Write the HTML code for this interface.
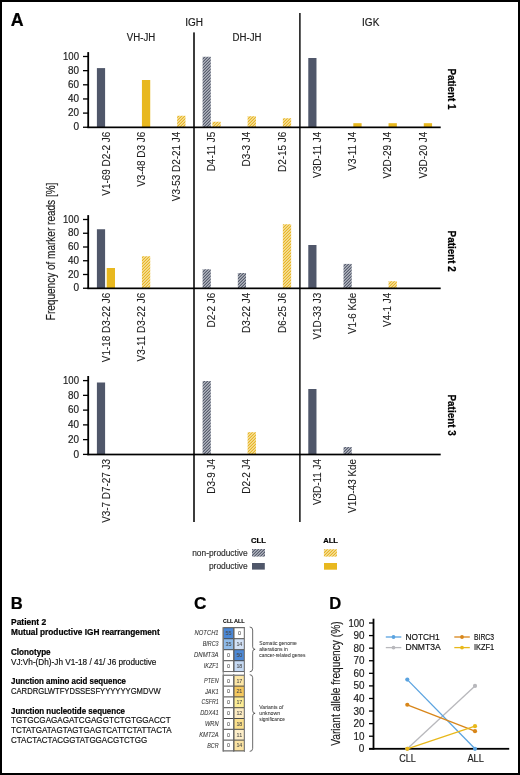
<!DOCTYPE html>
<html><head><meta charset="utf-8"><title>Figure</title>
<style>html,body{margin:0;padding:0;background:#fff;}svg{display:block;will-change:transform;}</style>
</head><body>
<svg width="520" height="775" viewBox="0 0 520 775" font-family='"Liberation Sans", sans-serif' fill="#1c1c1c">
<defs>
<pattern id="hd" patternUnits="userSpaceOnUse" width="2.1213" height="2.1213" patternTransform="rotate(45)">
<rect width="2.1213" height="2.1213" fill="#e4e6ec"/><rect width="1.12" height="2.1213" fill="#343b4e"/></pattern>
<pattern id="hy" patternUnits="userSpaceOnUse" width="2.1213" height="2.1213" patternTransform="rotate(45)">
<rect width="2.1213" height="2.1213" fill="#fffae6"/><rect width="1.2" height="2.1213" fill="#e3aa06"/></pattern>
</defs>
<rect x="0" y="0" width="520" height="775" fill="#fff"/>
<text x="10.7" y="25.5" font-size="17.8" stroke="#000" stroke-width="0.22" font-weight="bold" fill="#000">A</text>
<text x="194.2" y="25.6" font-size="10.0" stroke="#1c1c1c" stroke-width="0.18" text-anchor="middle">IGH</text>
<text x="141.0" y="41.2" font-size="10.0" stroke="#1c1c1c" stroke-width="0.18" text-anchor="middle" textLength="28.4" lengthAdjust="spacingAndGlyphs">VH-JH</text>
<text x="247.0" y="40.9" font-size="10.0" stroke="#1c1c1c" stroke-width="0.18" text-anchor="middle" textLength="28.9" lengthAdjust="spacingAndGlyphs">DH-JH</text>
<text x="370.7" y="25.9" font-size="10.0" stroke="#1c1c1c" stroke-width="0.18" text-anchor="middle">IGK</text>
<rect x="193" y="32.4" width="2" height="489.6" fill="#3c3c3c"/>
<rect x="299" y="13" width="1.75" height="509" fill="#333"/>
<rect x="96.90" y="68.1" width="8.2" height="59.15" fill="#50576a"/>
<rect x="141.93" y="80.0" width="8.3" height="47.25" fill="#e8b81f"/>
<rect x="177.16" y="115.75" width="8.3" height="11.50" fill="url(#hy)"/>
<rect x="202.59" y="56.75" width="8.2" height="70.50" fill="url(#hd)"/>
<rect x="212.39" y="121.75" width="8.3" height="5.50" fill="url(#hy)"/>
<rect x="247.62" y="116.25" width="8.3" height="11.00" fill="url(#hy)"/>
<rect x="282.85" y="118.25" width="8.3" height="9.00" fill="url(#hy)"/>
<rect x="308.28" y="58.0" width="8.2" height="69.25" fill="#50576a"/>
<rect x="353.31" y="123.2" width="8.3" height="4.05" fill="#e8b81f"/>
<rect x="388.54" y="123.2" width="8.3" height="4.05" fill="#e8b81f"/>
<rect x="423.77" y="123.2" width="8.3" height="4.05" fill="#e8b81f"/>
<rect x="87.3" y="52.1" width="1.8" height="75.95" fill="#000"/>
<rect x="87.3" y="126.50" width="353.40" height="1.7" fill="#000"/>
<rect x="83" y="126.60" width="5" height="1.3" fill="#000"/>
<text x="79.0" y="130.45" font-size="10.5" stroke="#1c1c1c" stroke-width="0.18" text-anchor="end" textLength="5.6" lengthAdjust="spacingAndGlyphs">0</text>
<rect x="83" y="112.45" width="5" height="1.3" fill="#000"/>
<text x="79.0" y="116.3" font-size="10.5" stroke="#1c1c1c" stroke-width="0.18" text-anchor="end" textLength="11.0" lengthAdjust="spacingAndGlyphs">20</text>
<rect x="83" y="98.30" width="5" height="1.3" fill="#000"/>
<text x="79.0" y="102.15" font-size="10.5" stroke="#1c1c1c" stroke-width="0.18" text-anchor="end" textLength="11.0" lengthAdjust="spacingAndGlyphs">40</text>
<rect x="83" y="84.15" width="5" height="1.3" fill="#000"/>
<text x="79.0" y="88.0" font-size="10.5" stroke="#1c1c1c" stroke-width="0.18" text-anchor="end" textLength="11.0" lengthAdjust="spacingAndGlyphs">60</text>
<rect x="83" y="70.00" width="5" height="1.3" fill="#000"/>
<text x="79.0" y="73.85" font-size="10.5" stroke="#1c1c1c" stroke-width="0.18" text-anchor="end" textLength="11.0" lengthAdjust="spacingAndGlyphs">80</text>
<rect x="83" y="55.85" width="5" height="1.3" fill="#000"/>
<text x="79.0" y="59.7" font-size="10.5" stroke="#1c1c1c" stroke-width="0.18" text-anchor="end" textLength="16.0" lengthAdjust="spacingAndGlyphs">100</text>
<text transform="translate(109.5,131.85) rotate(-90)" font-size="11.2" stroke="#1c1c1c" stroke-width="0.1" text-anchor="end" textLength="63.83" lengthAdjust="spacingAndGlyphs">V1-69 D2-2 J6</text>
<text transform="translate(144.73,131.85) rotate(-90)" font-size="11.2" stroke="#1c1c1c" stroke-width="0.1" text-anchor="end" textLength="55.03" lengthAdjust="spacingAndGlyphs">V3-48 D3 J6</text>
<text transform="translate(179.96,131.85) rotate(-90)" font-size="11.2" stroke="#1c1c1c" stroke-width="0.1" text-anchor="end" textLength="69.33" lengthAdjust="spacingAndGlyphs">V3-53 D2-21 J4</text>
<text transform="translate(215.19,131.85) rotate(-90)" font-size="11.2" stroke="#1c1c1c" stroke-width="0.1" text-anchor="end" textLength="39.43" lengthAdjust="spacingAndGlyphs">D4-11 J5</text>
<text transform="translate(250.42,131.85) rotate(-90)" font-size="11.2" stroke="#1c1c1c" stroke-width="0.1" text-anchor="end" textLength="34.66" lengthAdjust="spacingAndGlyphs">D3-3 J4</text>
<text transform="translate(285.65,131.85) rotate(-90)" font-size="11.2" stroke="#1c1c1c" stroke-width="0.1" text-anchor="end" textLength="40.17" lengthAdjust="spacingAndGlyphs">D2-15 J6</text>
<text transform="translate(320.88,131.85) rotate(-90)" font-size="11.2" stroke="#1c1c1c" stroke-width="0.1" text-anchor="end" textLength="46.04" lengthAdjust="spacingAndGlyphs">V3D-11 J4</text>
<text transform="translate(356.11,131.85) rotate(-90)" font-size="11.2" stroke="#1c1c1c" stroke-width="0.1" text-anchor="end" textLength="38.89" lengthAdjust="spacingAndGlyphs">V3-11 J4</text>
<text transform="translate(391.34,131.85) rotate(-90)" font-size="11.2" stroke="#1c1c1c" stroke-width="0.1" text-anchor="end" textLength="46.77" lengthAdjust="spacingAndGlyphs">V2D-29 J4</text>
<text transform="translate(426.57,131.85) rotate(-90)" font-size="11.2" stroke="#1c1c1c" stroke-width="0.1" text-anchor="end" textLength="46.77" lengthAdjust="spacingAndGlyphs">V3D-20 J4</text>
<rect x="96.90" y="229.25" width="8.2" height="59.00" fill="#50576a"/>
<rect x="106.70" y="268.0" width="8.3" height="20.25" fill="#e8b81f"/>
<rect x="141.93" y="256.25" width="8.3" height="32.00" fill="url(#hy)"/>
<rect x="202.59" y="269.25" width="8.2" height="19.00" fill="url(#hd)"/>
<rect x="237.82" y="273.0" width="8.2" height="15.25" fill="url(#hd)"/>
<rect x="282.85" y="224.25" width="8.3" height="64.00" fill="url(#hy)"/>
<rect x="308.28" y="245.0" width="8.2" height="43.25" fill="#50576a"/>
<rect x="343.51" y="263.9" width="8.2" height="24.35" fill="url(#hd)"/>
<rect x="388.54" y="281.2" width="8.3" height="7.05" fill="url(#hy)"/>
<rect x="87.3" y="215.1" width="1.8" height="73.95" fill="#000"/>
<rect x="87.3" y="287.50" width="353.40" height="1.7" fill="#000"/>
<rect x="83" y="287.60" width="5" height="1.3" fill="#000"/>
<text x="79.0" y="291.45" font-size="10.5" stroke="#1c1c1c" stroke-width="0.18" text-anchor="end" textLength="5.6" lengthAdjust="spacingAndGlyphs">0</text>
<rect x="83" y="273.85" width="5" height="1.3" fill="#000"/>
<text x="79.0" y="277.7" font-size="10.5" stroke="#1c1c1c" stroke-width="0.18" text-anchor="end" textLength="11.0" lengthAdjust="spacingAndGlyphs">20</text>
<rect x="83" y="260.10" width="5" height="1.3" fill="#000"/>
<text x="79.0" y="263.95" font-size="10.5" stroke="#1c1c1c" stroke-width="0.18" text-anchor="end" textLength="11.0" lengthAdjust="spacingAndGlyphs">40</text>
<rect x="83" y="246.35" width="5" height="1.3" fill="#000"/>
<text x="79.0" y="250.2" font-size="10.5" stroke="#1c1c1c" stroke-width="0.18" text-anchor="end" textLength="11.0" lengthAdjust="spacingAndGlyphs">60</text>
<rect x="83" y="232.60" width="5" height="1.3" fill="#000"/>
<text x="79.0" y="236.45" font-size="10.5" stroke="#1c1c1c" stroke-width="0.18" text-anchor="end" textLength="11.0" lengthAdjust="spacingAndGlyphs">80</text>
<rect x="83" y="218.85" width="5" height="1.3" fill="#000"/>
<text x="79.0" y="222.7" font-size="10.5" stroke="#1c1c1c" stroke-width="0.18" text-anchor="end" textLength="16.0" lengthAdjust="spacingAndGlyphs">100</text>
<text transform="translate(109.5,292.85) rotate(-90)" font-size="11.2" stroke="#1c1c1c" stroke-width="0.1" text-anchor="end" textLength="69.33" lengthAdjust="spacingAndGlyphs">V1-18 D3-22 J6</text>
<text transform="translate(144.73,292.85) rotate(-90)" font-size="11.2" stroke="#1c1c1c" stroke-width="0.1" text-anchor="end" textLength="68.6" lengthAdjust="spacingAndGlyphs">V3-11 D3-22 J6</text>
<text transform="translate(215.19,292.85) rotate(-90)" font-size="11.2" stroke="#1c1c1c" stroke-width="0.1" text-anchor="end" textLength="34.66" lengthAdjust="spacingAndGlyphs">D2-2 J6</text>
<text transform="translate(250.42,292.85) rotate(-90)" font-size="11.2" stroke="#1c1c1c" stroke-width="0.1" text-anchor="end" textLength="40.17" lengthAdjust="spacingAndGlyphs">D3-22 J4</text>
<text transform="translate(285.65,292.85) rotate(-90)" font-size="11.2" stroke="#1c1c1c" stroke-width="0.1" text-anchor="end" textLength="40.17" lengthAdjust="spacingAndGlyphs">D6-25 J6</text>
<text transform="translate(320.88,292.85) rotate(-90)" font-size="11.2" stroke="#1c1c1c" stroke-width="0.1" text-anchor="end" textLength="46.77" lengthAdjust="spacingAndGlyphs">V1D-33 J3</text>
<text transform="translate(356.11,292.85) rotate(-90)" font-size="11.2" stroke="#1c1c1c" stroke-width="0.1" text-anchor="end" textLength="41.28" lengthAdjust="spacingAndGlyphs">V1-6 Kde</text>
<text transform="translate(391.34,292.85) rotate(-90)" font-size="11.2" stroke="#1c1c1c" stroke-width="0.1" text-anchor="end" textLength="34.12" lengthAdjust="spacingAndGlyphs">V4-1 J4</text>
<rect x="96.90" y="382.5" width="8.2" height="71.90" fill="#50576a"/>
<rect x="202.59" y="381.0" width="8.2" height="73.40" fill="url(#hd)"/>
<rect x="247.62" y="432.2" width="8.3" height="22.20" fill="url(#hy)"/>
<rect x="308.28" y="389.0" width="8.2" height="65.40" fill="#50576a"/>
<rect x="343.51" y="447.0" width="8.2" height="7.40" fill="url(#hd)"/>
<rect x="87.3" y="376.0" width="1.8" height="79.20" fill="#000"/>
<rect x="87.3" y="453.65" width="353.40" height="1.7" fill="#000"/>
<rect x="83" y="453.75" width="5" height="1.3" fill="#000"/>
<text x="79.0" y="457.6" font-size="10.5" stroke="#1c1c1c" stroke-width="0.18" text-anchor="end" textLength="5.6" lengthAdjust="spacingAndGlyphs">0</text>
<rect x="83" y="438.99" width="5" height="1.3" fill="#000"/>
<text x="79.0" y="442.84" font-size="10.5" stroke="#1c1c1c" stroke-width="0.18" text-anchor="end" textLength="11.0" lengthAdjust="spacingAndGlyphs">20</text>
<rect x="83" y="424.23" width="5" height="1.3" fill="#000"/>
<text x="79.0" y="428.08" font-size="10.5" stroke="#1c1c1c" stroke-width="0.18" text-anchor="end" textLength="11.0" lengthAdjust="spacingAndGlyphs">40</text>
<rect x="83" y="409.47" width="5" height="1.3" fill="#000"/>
<text x="79.0" y="413.32" font-size="10.5" stroke="#1c1c1c" stroke-width="0.18" text-anchor="end" textLength="11.0" lengthAdjust="spacingAndGlyphs">60</text>
<rect x="83" y="394.71" width="5" height="1.3" fill="#000"/>
<text x="79.0" y="398.56" font-size="10.5" stroke="#1c1c1c" stroke-width="0.18" text-anchor="end" textLength="11.0" lengthAdjust="spacingAndGlyphs">80</text>
<rect x="83" y="379.95" width="5" height="1.3" fill="#000"/>
<text x="79.0" y="383.8" font-size="10.5" stroke="#1c1c1c" stroke-width="0.18" text-anchor="end" textLength="16.0" lengthAdjust="spacingAndGlyphs">100</text>
<text transform="translate(109.5,459.0) rotate(-90)" font-size="11.2" stroke="#1c1c1c" stroke-width="0.1" text-anchor="end" textLength="63.83" lengthAdjust="spacingAndGlyphs">V3-7 D7-27 J3</text>
<text transform="translate(215.19,459.0) rotate(-90)" font-size="11.2" stroke="#1c1c1c" stroke-width="0.1" text-anchor="end" textLength="34.66" lengthAdjust="spacingAndGlyphs">D3-9 J4</text>
<text transform="translate(250.42,459.0) rotate(-90)" font-size="11.2" stroke="#1c1c1c" stroke-width="0.1" text-anchor="end" textLength="34.66" lengthAdjust="spacingAndGlyphs">D2-2 J4</text>
<text transform="translate(320.88,459.0) rotate(-90)" font-size="11.2" stroke="#1c1c1c" stroke-width="0.1" text-anchor="end" textLength="46.04" lengthAdjust="spacingAndGlyphs">V3D-11 J4</text>
<text transform="translate(356.11,459.0) rotate(-90)" font-size="11.2" stroke="#1c1c1c" stroke-width="0.1" text-anchor="end" textLength="53.93" lengthAdjust="spacingAndGlyphs">V1D-43 Kde</text>
<text transform="translate(447.5,89.0) rotate(90)" font-size="10.6" stroke="#000" stroke-width="0.22" font-weight="bold" text-anchor="middle" fill="#000" textLength="41.2" lengthAdjust="spacingAndGlyphs">Patient 1</text>
<text transform="translate(447.5,251.2) rotate(90)" font-size="10.6" stroke="#000" stroke-width="0.22" font-weight="bold" text-anchor="middle" fill="#000" textLength="41.2" lengthAdjust="spacingAndGlyphs">Patient 2</text>
<text transform="translate(447.5,415.1) rotate(90)" font-size="10.6" stroke="#000" stroke-width="0.22" font-weight="bold" text-anchor="middle" fill="#000" textLength="41.2" lengthAdjust="spacingAndGlyphs">Patient 3</text>
<text transform="translate(54.6,251.4) rotate(-90)" font-size="13.2" stroke="#1c1c1c" stroke-width="0.18" text-anchor="middle" textLength="137.6" lengthAdjust="spacingAndGlyphs">Frequency of marker reads [%]</text>
<text x="258.4" y="542.8" font-size="7.6" stroke="#000" stroke-width="0.22" font-weight="bold" text-anchor="middle" fill="#000">CLL</text>
<text x="330.6" y="542.8" font-size="7.6" stroke="#000" stroke-width="0.22" font-weight="bold" text-anchor="middle" fill="#000">ALL</text>
<text x="247.6" y="555.8" font-size="8.4" stroke="#333" stroke-width="0.18" text-anchor="end" fill="#333">non-productive</text>
<text x="247.6" y="569.2" font-size="8.4" stroke="#333" stroke-width="0.18" text-anchor="end" fill="#333">productive</text>
<rect x="252" y="549.0" width="13" height="7.6" fill="url(#hd)"/>
<rect x="252" y="563" width="12.8" height="6.6" fill="#50576a"/>
<rect x="323.9" y="549.2" width="13" height="7.4" fill="url(#hy)"/>
<rect x="324" y="563" width="13" height="6.7" fill="#e8b81f"/>
<text x="10.8" y="609.2" font-size="16.6" stroke="#000" stroke-width="0.22" font-weight="bold" fill="#000">B</text>
<text x="11" y="625.2" font-size="8.8" stroke="#000" stroke-width="0.22" font-weight="bold" fill="#000" textLength="35.2" lengthAdjust="spacingAndGlyphs">Patient 2</text>
<text x="11" y="635.2" font-size="8.8" stroke="#000" stroke-width="0.22" font-weight="bold" fill="#000" textLength="148.7" lengthAdjust="spacingAndGlyphs">Mutual productive IGH rearrangement</text>
<text x="11" y="654.6" font-size="8.8" stroke="#000" stroke-width="0.22" font-weight="bold" fill="#000" textLength="39.6" lengthAdjust="spacingAndGlyphs">Clonotype</text>
<text x="11" y="664.6" font-size="8.7" stroke="#111" stroke-width="0.18" fill="#111" textLength="145.4" lengthAdjust="spacingAndGlyphs">VJ:Vh-(Dh)-Jh V1-18 / 41/ J6 productive</text>
<text x="11" y="684.0" font-size="8.8" stroke="#000" stroke-width="0.22" font-weight="bold" fill="#000" textLength="115" lengthAdjust="spacingAndGlyphs">Junction amino acid sequence</text>
<text x="11" y="694.0" font-size="8.7" stroke="#111" stroke-width="0.18" fill="#111" textLength="149.8" lengthAdjust="spacingAndGlyphs">CARDRGLWTFYDSSESFYYYYYYGMDVW</text>
<text x="11" y="713.8" font-size="8.8" stroke="#000" stroke-width="0.22" font-weight="bold" fill="#000" textLength="114" lengthAdjust="spacingAndGlyphs">Junction nucleotide sequence</text>
<text x="11" y="723.3" font-size="8.7" stroke="#111" stroke-width="0.18" fill="#111" textLength="159.6" lengthAdjust="spacingAndGlyphs">TGTGCGAGAGATCGAGGTCTGTGGACCT</text>
<text x="11" y="732.9" font-size="8.7" stroke="#111" stroke-width="0.18" fill="#111" textLength="160.7" lengthAdjust="spacingAndGlyphs">TCTATGATAGTAGTGAGTCATTCTATTACTA</text>
<text x="11" y="742.5" font-size="8.7" stroke="#111" stroke-width="0.18" fill="#111" textLength="136.2" lengthAdjust="spacingAndGlyphs">CTACTACTACGGTATGGACGTCTGG</text>
<text x="193.9" y="608.9" font-size="17.2" stroke="#000" stroke-width="0.22" font-weight="bold" fill="#000">C</text>
<text x="223.1" y="622.7" font-size="5.7" stroke="#000" stroke-width="0.06" font-weight="bold" fill="#000" textLength="10.2" lengthAdjust="spacingAndGlyphs">CLL</text>
<text x="233.9" y="622.7" font-size="5.7" stroke="#000" stroke-width="0.06" font-weight="bold" fill="#000" textLength="10.9" lengthAdjust="spacingAndGlyphs">ALL</text>
<rect x="222.7" y="627.2" width="22.30" height="45.00" fill="#4a4a4a"/>
<rect x="223.80" y="628.20" width="9.45" height="10.00" fill="#4a87d6"/>
<rect x="234.30" y="628.20" width="9.60" height="10.00" fill="#ffffff"/>
<text x="228.53" y="635.1" font-size="5.4" stroke="#4a4a4a" stroke-width="0.06" text-anchor="middle" fill="#4a4a4a">55</text>
<text x="239.38" y="635.1" font-size="5.4" stroke="#4a4a4a" stroke-width="0.06" text-anchor="middle" fill="#4a4a4a">0</text>
<text x="218.6" y="635.2" font-size="6.4" stroke="#333" stroke-width="0.06" font-style="italic" text-anchor="end" fill="#333" textLength="24.0" lengthAdjust="spacingAndGlyphs">NOTCH1</text>
<rect x="223.80" y="639.20" width="9.45" height="10.00" fill="#8fbbea"/>
<rect x="234.30" y="639.20" width="9.60" height="10.00" fill="#d3e2f7"/>
<text x="228.53" y="646.1" font-size="5.4" stroke="#4a4a4a" stroke-width="0.06" text-anchor="middle" fill="#4a4a4a">35</text>
<text x="239.38" y="646.1" font-size="5.4" stroke="#4a4a4a" stroke-width="0.06" text-anchor="middle" fill="#4a4a4a">14</text>
<text x="218.6" y="646.2" font-size="6.4" stroke="#333" stroke-width="0.06" font-style="italic" text-anchor="end" fill="#333" textLength="15.8" lengthAdjust="spacingAndGlyphs">BIRC3</text>
<rect x="223.80" y="650.20" width="9.45" height="10.00" fill="#ffffff"/>
<rect x="234.30" y="650.20" width="9.60" height="10.00" fill="#4d89d6"/>
<text x="228.53" y="657.1" font-size="5.4" stroke="#4a4a4a" stroke-width="0.06" text-anchor="middle" fill="#4a4a4a">0</text>
<text x="239.38" y="657.1" font-size="5.4" stroke="#4a4a4a" stroke-width="0.06" text-anchor="middle" fill="#4a4a4a">50</text>
<text x="218.6" y="657.2" font-size="6.4" stroke="#333" stroke-width="0.06" font-style="italic" text-anchor="end" fill="#333" textLength="24.6" lengthAdjust="spacingAndGlyphs">DNMT3A</text>
<rect x="223.80" y="661.20" width="9.45" height="10.00" fill="#ffffff"/>
<rect x="234.30" y="661.20" width="9.60" height="10.00" fill="#c6daf4"/>
<text x="228.53" y="668.1" font-size="5.4" stroke="#4a4a4a" stroke-width="0.06" text-anchor="middle" fill="#4a4a4a">0</text>
<text x="239.38" y="668.1" font-size="5.4" stroke="#4a4a4a" stroke-width="0.06" text-anchor="middle" fill="#4a4a4a">18</text>
<text x="218.6" y="668.2" font-size="6.4" stroke="#333" stroke-width="0.06" font-style="italic" text-anchor="end" fill="#333" textLength="14.8" lengthAdjust="spacingAndGlyphs">IKZF1</text>
<rect x="222.7" y="674.8" width="22.30" height="76.60" fill="#4a4a4a"/>
<rect x="223.80" y="675.80" width="9.45" height="9.80" fill="#ffffff"/>
<rect x="234.30" y="675.80" width="9.60" height="9.80" fill="#fde7a6"/>
<text x="228.53" y="682.6" font-size="5.4" stroke="#4a4a4a" stroke-width="0.06" text-anchor="middle" fill="#4a4a4a">0</text>
<text x="239.38" y="682.6" font-size="5.4" stroke="#4a4a4a" stroke-width="0.06" text-anchor="middle" fill="#4a4a4a">17</text>
<text x="218.6" y="682.7" font-size="6.4" stroke="#333" stroke-width="0.06" font-style="italic" text-anchor="end" fill="#333" textLength="14.5" lengthAdjust="spacingAndGlyphs">PTEN</text>
<rect x="223.80" y="686.60" width="9.45" height="9.80" fill="#ffffff"/>
<rect x="234.30" y="686.60" width="9.60" height="9.80" fill="#f6c95e"/>
<text x="228.53" y="693.4" font-size="5.4" stroke="#4a4a4a" stroke-width="0.06" text-anchor="middle" fill="#4a4a4a">0</text>
<text x="239.38" y="693.4" font-size="5.4" stroke="#4a4a4a" stroke-width="0.06" text-anchor="middle" fill="#4a4a4a">21</text>
<text x="218.6" y="693.5" font-size="6.4" stroke="#333" stroke-width="0.06" font-style="italic" text-anchor="end" fill="#333" textLength="13.6" lengthAdjust="spacingAndGlyphs">JAK1</text>
<rect x="223.80" y="697.40" width="9.45" height="9.80" fill="#ffffff"/>
<rect x="234.30" y="697.40" width="9.60" height="9.80" fill="#fcec94"/>
<text x="228.53" y="704.2" font-size="5.4" stroke="#4a4a4a" stroke-width="0.06" text-anchor="middle" fill="#4a4a4a">0</text>
<text x="239.38" y="704.2" font-size="5.4" stroke="#4a4a4a" stroke-width="0.06" text-anchor="middle" fill="#4a4a4a">17</text>
<text x="218.6" y="704.3" font-size="6.4" stroke="#333" stroke-width="0.06" font-style="italic" text-anchor="end" fill="#333" textLength="17.1" lengthAdjust="spacingAndGlyphs">CSFR1</text>
<rect x="223.80" y="708.20" width="9.45" height="9.80" fill="#ffffff"/>
<rect x="234.30" y="708.20" width="9.60" height="9.80" fill="#fdecc2"/>
<text x="228.53" y="715.0" font-size="5.4" stroke="#4a4a4a" stroke-width="0.06" text-anchor="middle" fill="#4a4a4a">0</text>
<text x="239.38" y="715.0" font-size="5.4" stroke="#4a4a4a" stroke-width="0.06" text-anchor="middle" fill="#4a4a4a">12</text>
<text x="218.6" y="715.1" font-size="6.4" stroke="#333" stroke-width="0.06" font-style="italic" text-anchor="end" fill="#333" textLength="18.4" lengthAdjust="spacingAndGlyphs">DDX41</text>
<rect x="223.80" y="719.00" width="9.45" height="9.80" fill="#ffffff"/>
<rect x="234.30" y="719.00" width="9.60" height="9.80" fill="#fbe08c"/>
<text x="228.53" y="725.8" font-size="5.4" stroke="#4a4a4a" stroke-width="0.06" text-anchor="middle" fill="#4a4a4a">0</text>
<text x="239.38" y="725.8" font-size="5.4" stroke="#4a4a4a" stroke-width="0.06" text-anchor="middle" fill="#4a4a4a">18</text>
<text x="218.6" y="725.9" font-size="6.4" stroke="#333" stroke-width="0.06" font-style="italic" text-anchor="end" fill="#333" textLength="13.6" lengthAdjust="spacingAndGlyphs">WRN</text>
<rect x="223.80" y="729.80" width="9.45" height="9.80" fill="#ffffff"/>
<rect x="234.30" y="729.80" width="9.60" height="9.80" fill="#fdeec8"/>
<text x="228.53" y="736.6" font-size="5.4" stroke="#4a4a4a" stroke-width="0.06" text-anchor="middle" fill="#4a4a4a">0</text>
<text x="239.38" y="736.6" font-size="5.4" stroke="#4a4a4a" stroke-width="0.06" text-anchor="middle" fill="#4a4a4a">11</text>
<text x="218.6" y="736.7" font-size="6.4" stroke="#333" stroke-width="0.06" font-style="italic" text-anchor="end" fill="#333" textLength="19.4" lengthAdjust="spacingAndGlyphs">KMT2A</text>
<rect x="223.80" y="740.60" width="9.45" height="9.80" fill="#ffffff"/>
<rect x="234.30" y="740.60" width="9.60" height="9.80" fill="#fbe3a2"/>
<text x="228.53" y="747.4" font-size="5.4" stroke="#4a4a4a" stroke-width="0.06" text-anchor="middle" fill="#4a4a4a">0</text>
<text x="239.38" y="747.4" font-size="5.4" stroke="#4a4a4a" stroke-width="0.06" text-anchor="middle" fill="#4a4a4a">14</text>
<text x="218.6" y="747.5" font-size="6.4" stroke="#333" stroke-width="0.06" font-style="italic" text-anchor="end" fill="#333" textLength="11.3" lengthAdjust="spacingAndGlyphs">BCR</text>
<rect x="222.7" y="627.2" width="1.1" height="124.6" fill="#808080"/>
<rect x="243.9" y="627.2" width="1.1" height="124.6" fill="#808080"/>
<rect x="233.2" y="627.2" width="1.1" height="124.6" fill="#6a6a6a"/>
<rect x="223.8" y="672.2" width="20.1" height="1.8" fill="#ffffff"/>
<rect x="223.8" y="674.8" width="20.1" height="1" fill="#8a8a8a"/>
<path d="M249.7,627.0 Q252.67,627.0 252.67,630.0 L252.67,646.8 Q252.67,649.3 255.1,649.3 Q252.67,649.3 252.67,651.8 L252.67,668.8 Q252.67,671.8 249.7,671.8" fill="none" stroke="#3a3a3a" stroke-width="0.75"/>
<path d="M249.7,674.7 Q252.67,674.7 252.67,677.7 L252.67,710.8 Q252.67,713.3 255.1,713.3 Q252.67,713.3 252.67,715.8 L252.67,748.4 Q252.67,751.4 249.7,751.4" fill="none" stroke="#3a3a3a" stroke-width="0.75"/>
<text x="259.3" y="644.9" font-size="5.7" stroke="#333" stroke-width="0.06" fill="#333" textLength="37.6" lengthAdjust="spacingAndGlyphs">Somatic genome</text>
<text x="259.3" y="650.75" font-size="5.7" stroke="#333" stroke-width="0.06" fill="#333" textLength="28.6" lengthAdjust="spacingAndGlyphs">alterations in</text>
<text x="259.3" y="656.6" font-size="5.7" stroke="#333" stroke-width="0.06" fill="#333" textLength="46.2" lengthAdjust="spacingAndGlyphs">cancer-related genes</text>
<text x="259.3" y="709.0" font-size="5.7" stroke="#333" stroke-width="0.06" fill="#333" textLength="24.0" lengthAdjust="spacingAndGlyphs">Variants of</text>
<text x="259.3" y="714.75" font-size="5.7" stroke="#333" stroke-width="0.06" fill="#333" textLength="20.8" lengthAdjust="spacingAndGlyphs">unknown</text>
<text x="259.3" y="720.5" font-size="5.7" stroke="#333" stroke-width="0.06" fill="#333" textLength="25.7" lengthAdjust="spacingAndGlyphs">significance</text>
<text x="329.2" y="608.8" font-size="16.6" stroke="#000" stroke-width="0.22" font-weight="bold" fill="#000">D</text>
<rect x="372.6" y="618.7" width="1.8" height="131.00" fill="#000"/>
<rect x="369" y="747.9" width="140.2" height="1.8" fill="#000"/>
<rect x="369" y="748.15" width="4" height="1.3" fill="#000"/>
<text x="364.4" y="752.3" font-size="10.5" stroke="#1c1c1c" stroke-width="0.18" text-anchor="end" textLength="5.6" lengthAdjust="spacingAndGlyphs">0</text>
<rect x="369" y="735.57" width="4" height="1.3" fill="#000"/>
<text x="364.4" y="739.72" font-size="10.5" stroke="#1c1c1c" stroke-width="0.18" text-anchor="end" textLength="11.0" lengthAdjust="spacingAndGlyphs">10</text>
<rect x="369" y="722.99" width="4" height="1.3" fill="#000"/>
<text x="364.4" y="727.14" font-size="10.5" stroke="#1c1c1c" stroke-width="0.18" text-anchor="end" textLength="11.0" lengthAdjust="spacingAndGlyphs">20</text>
<rect x="369" y="710.41" width="4" height="1.3" fill="#000"/>
<text x="364.4" y="714.56" font-size="10.5" stroke="#1c1c1c" stroke-width="0.18" text-anchor="end" textLength="11.0" lengthAdjust="spacingAndGlyphs">30</text>
<rect x="369" y="697.83" width="4" height="1.3" fill="#000"/>
<text x="364.4" y="701.98" font-size="10.5" stroke="#1c1c1c" stroke-width="0.18" text-anchor="end" textLength="11.0" lengthAdjust="spacingAndGlyphs">40</text>
<rect x="369" y="685.25" width="4" height="1.3" fill="#000"/>
<text x="364.4" y="689.4" font-size="10.5" stroke="#1c1c1c" stroke-width="0.18" text-anchor="end" textLength="11.0" lengthAdjust="spacingAndGlyphs">50</text>
<rect x="369" y="672.67" width="4" height="1.3" fill="#000"/>
<text x="364.4" y="676.82" font-size="10.5" stroke="#1c1c1c" stroke-width="0.18" text-anchor="end" textLength="11.0" lengthAdjust="spacingAndGlyphs">60</text>
<rect x="369" y="660.09" width="4" height="1.3" fill="#000"/>
<text x="364.4" y="664.24" font-size="10.5" stroke="#1c1c1c" stroke-width="0.18" text-anchor="end" textLength="11.0" lengthAdjust="spacingAndGlyphs">70</text>
<rect x="369" y="647.51" width="4" height="1.3" fill="#000"/>
<text x="364.4" y="651.66" font-size="10.5" stroke="#1c1c1c" stroke-width="0.18" text-anchor="end" textLength="11.0" lengthAdjust="spacingAndGlyphs">80</text>
<rect x="369" y="634.93" width="4" height="1.3" fill="#000"/>
<text x="364.4" y="639.08" font-size="10.5" stroke="#1c1c1c" stroke-width="0.18" text-anchor="end" textLength="11.0" lengthAdjust="spacingAndGlyphs">90</text>
<rect x="369" y="622.35" width="4" height="1.3" fill="#000"/>
<text x="364.4" y="626.5" font-size="10.5" stroke="#1c1c1c" stroke-width="0.18" text-anchor="end" textLength="16.0" lengthAdjust="spacingAndGlyphs">100</text>
<text transform="translate(339.8,683.6) rotate(-90)" font-size="12.0" stroke="#1c1c1c" stroke-width="0.18" text-anchor="middle" textLength="124.4" lengthAdjust="spacingAndGlyphs">Variant allele frequency (%)</text>
<text x="407.6" y="762.2" font-size="10.2" stroke="#1c1c1c" stroke-width="0.18" text-anchor="middle" textLength="16.6" lengthAdjust="spacingAndGlyphs">CLL</text>
<text x="475.6" y="762.2" font-size="10.2" stroke="#1c1c1c" stroke-width="0.18" text-anchor="middle" textLength="16.4" lengthAdjust="spacingAndGlyphs">ALL</text>
<line x1="407.3" y1="748.80" x2="475.0" y2="685.90" stroke="#b8b8bc" stroke-width="1.3"/>
<circle cx="407.3" cy="748.80" r="2.1" fill="#b8b8bc"/>
<circle cx="475.0" cy="685.90" r="2.1" fill="#b8b8bc"/>
<line x1="407.3" y1="679.61" x2="475.0" y2="748.80" stroke="#5aa3e0" stroke-width="1.3"/>
<circle cx="407.3" cy="679.61" r="2.1" fill="#5aa3e0"/>
<circle cx="475.0" cy="748.80" r="2.1" fill="#5aa3e0"/>
<line x1="407.3" y1="704.77" x2="475.0" y2="731.19" stroke="#d8861a" stroke-width="1.3"/>
<circle cx="407.3" cy="704.77" r="2.1" fill="#d8861a"/>
<circle cx="475.0" cy="731.19" r="2.1" fill="#d8861a"/>
<line x1="407.3" y1="748.80" x2="475.0" y2="726.16" stroke="#e8b81a" stroke-width="1.3"/>
<circle cx="407.3" cy="748.80" r="2.1" fill="#e8b81a"/>
<circle cx="475.0" cy="726.16" r="2.1" fill="#e8b81a"/>
<line x1="385.8" y1="637.0" x2="401.3" y2="637.0" stroke="#5aa3e0" stroke-width="1.3"/>
<circle cx="393.5" cy="637.0" r="1.9" fill="#5aa3e0"/>
<text x="405.5" y="639.7" font-size="8.5" stroke="#111" stroke-width="0.18" fill="#111" textLength="34.2" lengthAdjust="spacingAndGlyphs">NOTCH1</text>
<line x1="385.8" y1="647.6" x2="401.3" y2="647.6" stroke="#b8b8bc" stroke-width="1.3"/>
<circle cx="393.5" cy="647.6" r="1.9" fill="#b8b8bc"/>
<text x="405.5" y="650.3" font-size="8.5" stroke="#111" stroke-width="0.18" fill="#111" textLength="35.2" lengthAdjust="spacingAndGlyphs">DNMT3A</text>
<line x1="454.3" y1="637.0" x2="469.8" y2="637.0" stroke="#d8861a" stroke-width="1.3"/>
<circle cx="462.0" cy="637.0" r="1.9" fill="#d8861a"/>
<text x="474.0" y="639.7" font-size="8.5" stroke="#111" stroke-width="0.18" fill="#111" textLength="19.9" lengthAdjust="spacingAndGlyphs">BIRC3</text>
<line x1="454.3" y1="647.6" x2="469.8" y2="647.6" stroke="#e8b81a" stroke-width="1.3"/>
<circle cx="462.0" cy="647.6" r="1.9" fill="#e8b81a"/>
<text x="474.0" y="650.3" font-size="8.5" stroke="#111" stroke-width="0.18" fill="#111" textLength="20.2" lengthAdjust="spacingAndGlyphs">IKZF1</text>
<rect x="1" y="1" width="518" height="773" fill="none" stroke="#000" stroke-width="2"/>
</svg>
</body></html>
